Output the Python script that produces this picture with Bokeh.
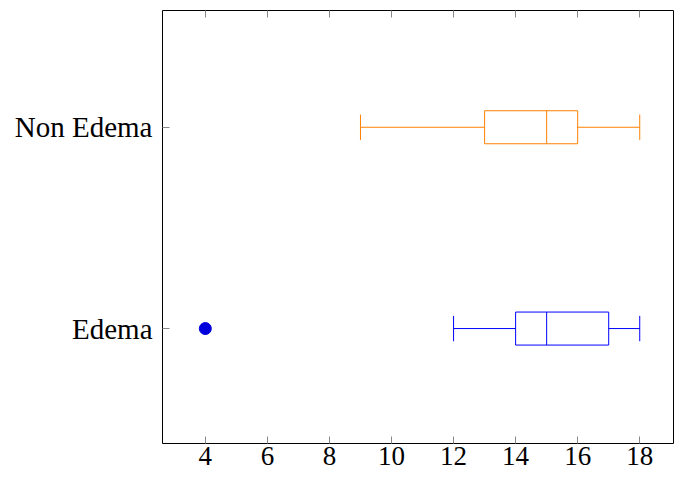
from bokeh.plotting import figure
from bokeh.models import LinearAxis, ColumnDataSource, FixedTicker
from bokeh.embed import file_html
from bokeh.resources import INLINE

categories = ["Edema", "Non Edema"]
cat_pos = [1, 2]
whisker_low = [12, 9]
q1 = [14, 13]
median = [15, 15]
q3 = [17, 16]
whisker_high = [18, 18]
colors = ["#0000ff", "#ff8000"]
outlier_cat = [1]
outlier_val = [4]
x_ticks = [4, 6, 8, 10, 12, 14, 16, 18]

BOX_H = 0.082
CAP_H = 0.063

src = ColumnDataSource(dict(
    y=cat_pos, lo=whisker_low, q1=q1, med=median, q3=q3, hi=whisker_high, color=colors,
    bb=[c - BOX_H for c in cat_pos], bt=[c + BOX_H for c in cat_pos],
    cb=[c - CAP_H for c in cat_pos], ct=[c + CAP_H for c in cat_pos],
))

p = figure(frame_width=512, frame_height=433, x_range=(2.62, 19.12), y_range=(0.429, 2.58),
           output_backend="svg", toolbar_location=None,
           min_border_left=162, min_border_top=10, min_border_right=0, min_border_bottom=36)

p.grid.visible = False
p.outline_line_color = "black"
p.outline_line_width = 1
p.background_fill_color = "white"
p.border_fill_color = "white"

FONT = "Liberation Serif"

xa = p.xaxis[0]
xa.ticker = FixedTicker(ticks=x_ticks)
xa.major_label_text_font = FONT
xa.major_label_text_font_size = "27px"
xa.major_label_text_color = "black"
xa.major_label_standoff = 3
xa.axis_line_color = None
xa.major_tick_in = 7
xa.major_tick_out = 0
xa.major_tick_line_color = "#888888"
xa.minor_tick_line_color = None

ya = p.yaxis[0]
ya.ticker = FixedTicker(ticks=cat_pos)
ya.major_label_overrides = {c: n for c, n in zip(cat_pos, categories)}
ya.major_label_text_font = FONT
ya.major_label_text_font_size = "29px"
ya.major_label_text_color = "black"
ya.major_label_standoff = 10
ya.axis_line_color = None
ya.major_tick_in = 7
ya.major_tick_out = 0
ya.major_tick_line_color = "#888888"
ya.minor_tick_line_color = None

top = LinearAxis(ticker=FixedTicker(ticks=x_ticks))
top.major_label_overrides = {t: "" for t in x_ticks}
top.major_label_standoff = 0
top.axis_line_color = None
top.major_tick_in = 7
top.major_tick_out = 0
top.major_tick_line_color = "#888888"
top.minor_tick_line_color = None
p.add_layout(top, "above")

# whiskers
p.segment(x0="lo", y0="y", x1="q1", y1="y", line_color="color", line_width=1, source=src)
p.segment(x0="q3", y0="y", x1="hi", y1="y", line_color="color", line_width=1, source=src)
# caps
p.segment(x0="lo", y0="cb", x1="lo", y1="ct", line_color="color", line_width=1, source=src)
p.segment(x0="hi", y0="cb", x1="hi", y1="ct", line_color="color", line_width=1, source=src)
# boxes
p.quad(left="q1", right="q3", bottom="bb", top="bt", fill_color=None,
       line_color="color", line_width=1, source=src)
# medians
p.segment(x0="med", y0="bb", x1="med", y1="bt", line_color="color", line_width=1, source=src)
# outliers
p.scatter(x=outlier_val, y=outlier_cat, size=12, color="#0000dd", marker="circle")

open("out.html", "w").write(file_html(p, INLINE))
